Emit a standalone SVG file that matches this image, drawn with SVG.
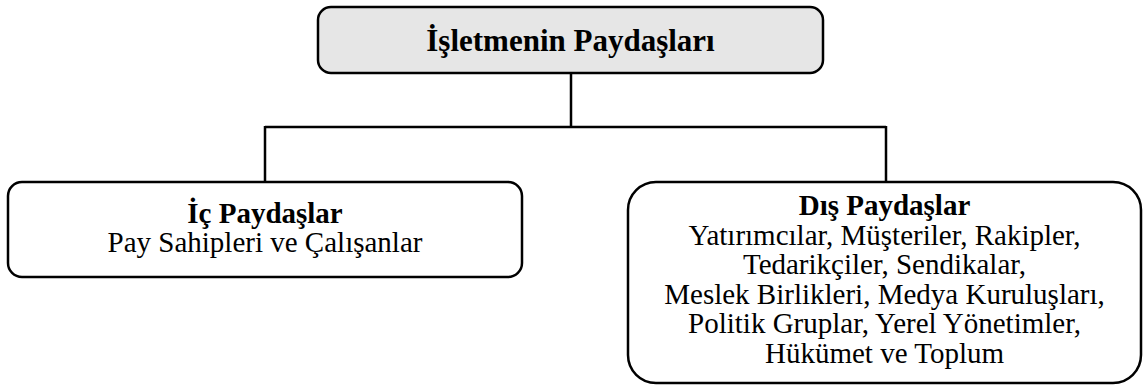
<svg xmlns="http://www.w3.org/2000/svg" width="1143" height="385" viewBox="0 0 1143 385">
<style>
.box{stroke:#000;stroke-width:2.5;fill:#fff}
.root{fill:#e6e6e6}
.t{font-family:"Liberation Serif","Times New Roman",serif;text-anchor:middle;fill:#000}
.b{font-weight:bold}
.conn{stroke:#000;stroke-width:2.5;fill:none}
</style>
<rect width="1143" height="385" fill="#fff"/>
<g id="connectors">
<path class="conn" d="M571 73 V127 M265 127 H886 M265 126 V182 M886 126 V182"/>
</g>
<g id="node-root">
<rect class="box root" x="318" y="7" width="505" height="66" rx="13"/>
<text class="t b" x="570.5" y="51" font-size="31">İşletmenin Paydaşları</text>
</g>
<g id="node-ic">
<rect class="box" x="8" y="182" width="514" height="95" rx="14"/>
<text class="t b" x="265" y="223" font-size="29">İç Paydaşlar</text>
<text class="t" x="265" y="252" font-size="29">Pay Sahipleri ve Çalışanlar</text>
</g>
<g id="node-dis">
<rect class="box" x="628" y="182" width="513" height="201" rx="28"/>
<text class="t b" x="884.5" y="215" font-size="29">Dış Paydaşlar</text>
<text class="t" x="884.5" y="244.5" font-size="29">Yatırımcılar, Müşteriler, Rakipler,</text>
<text class="t" x="884.5" y="274" font-size="29">Tedarikçiler, Sendikalar,</text>
<text class="t" x="884.5" y="303.5" font-size="29">Meslek Birlikleri, Medya Kuruluşları,</text>
<text class="t" x="884.5" y="333" font-size="29">Politik Gruplar, Yerel Yönetimler,</text>
<text class="t" x="884.5" y="362.5" font-size="29">Hükümet ve Toplum</text>
</g>
</svg>
